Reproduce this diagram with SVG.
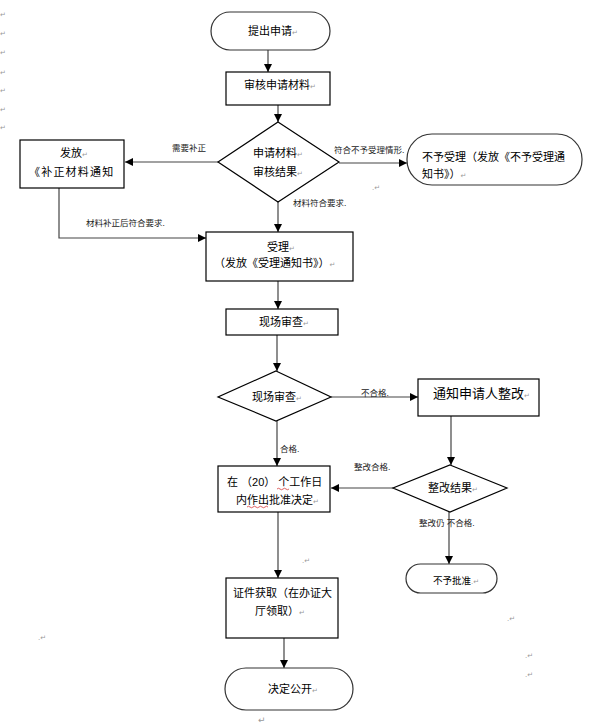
<svg xmlns="http://www.w3.org/2000/svg" width="596" height="727" viewBox="0 0 596 727">
<defs>
<marker id="arr" viewBox="0 0 10 10" refX="10" refY="5" markerWidth="8" markerHeight="8" markerUnits="userSpaceOnUse" orient="auto">
<path d="M0,0 L10,5 L0,10 z" fill="#000"/>
</marker>
</defs>
<style>
.box{fill:#fff;stroke:#000;stroke-width:1.2}
.term{fill:#fff;stroke:#333;stroke-width:1.2}
.t{font-family:"Liberation Sans","Noto Sans CJK SC",sans-serif;font-size:11px;fill:#000}
.big{font-size:13px}
.lb{font-family:"Liberation Sans","Noto Sans CJK SC",sans-serif;font-size:8.5px;fill:#222}
.pm{font-family:"DejaVu Sans",sans-serif;font-size:7px;fill:#999}
.c{fill:none;stroke:#444;stroke-width:1.2}
.wavy{fill:none;stroke:#d02020;stroke-width:0.7}
</style>
<rect width="596" height="727" fill="#fff"/>

<g id="margin-marks" class="pm">
<text x="0" y="17">↵</text><text x="0" y="36">↵</text><text x="0" y="55">↵</text><text x="0" y="75">↵</text><text x="0" y="93">↵</text><text x="0" y="112">↵</text><text x="0" y="130">↵</text>
<text x="38" y="640">.↵</text><text x="372" y="190">.↵</text><text x="479" y="412">.↵</text><text x="302" y="563">.↵</text>
<text x="507" y="621">.↵</text><text x="525" y="658">.↵</text><text x="525" y="677">.↵</text>
<text x="258" y="723" style="font-size:9px">↵</text>
</g>

<g id="connectors">
<line class="c" x1="268" y1="50" x2="268" y2="72" marker-end="url(#arr)"/>
<line class="c" x1="278" y1="105" x2="278" y2="122" marker-end="url(#arr)"/>
<line class="c" x1="218" y1="162" x2="125" y2="162" marker-end="url(#arr)"/>
<line class="c" x1="339" y1="163" x2="407" y2="163" marker-end="url(#arr)"/>
<line class="c" x1="278" y1="202" x2="278" y2="232" marker-end="url(#arr)"/>
<polyline class="c" points="59,188 59,238 206,238" marker-end="url(#arr)"/>
<line class="c" x1="278" y1="281" x2="278" y2="309" marker-end="url(#arr)"/>
<line class="c" x1="277" y1="335" x2="277" y2="371" marker-end="url(#arr)"/>
<line class="c" x1="331" y1="397" x2="418" y2="397" marker-end="url(#arr)"/>
<line class="c" x1="277" y1="421" x2="277" y2="466" marker-end="url(#arr)"/>
<line class="c" x1="451" y1="416" x2="451" y2="465" marker-end="url(#arr)"/>
<line class="c" x1="393" y1="488" x2="331" y2="488" marker-end="url(#arr)"/>
<line class="c" x1="449" y1="512" x2="449" y2="564" marker-end="url(#arr)"/>
<line class="c" x1="278" y1="512" x2="278" y2="578" marker-end="url(#arr)"/>
<line class="c" x1="284" y1="638" x2="284" y2="668" marker-end="url(#arr)"/>
<text class="lb" x="172" y="151">需要补正</text>
<text class="lb" x="334" y="153">符合不予受理情形.</text>
<text class="lb" x="293" y="206">材料符合要求.</text>
<text class="lb" x="86" y="226">材料补正后符合要求.</text>
<text class="lb" x="361" y="396">不合格.</text>
<text class="lb" x="280" y="452">合格.</text>
<text class="lb" x="354" y="470">整改合格.</text>
<text class="lb" x="419" y="526">整改仍 不合格.</text>
</g>

<g id="n-start">
<rect class="term" x="211" y="12" width="119" height="38" rx="19"/>
<text class="t" x="248" y="35">提出申请<tspan class="pm">↵</tspan></text>
</g>
<g id="n-review">
<rect class="box" x="226" y="72" width="104" height="33"/>
<text class="t" x="244" y="89">审核申请材料<tspan class="pm">↵</tspan></text>
</g>
<g id="n-decision1">
<polygon class="box" points="278,122 339,162 278,202 218,162"/>
<text class="t" x="253" y="157">申请材料<tspan class="pm">↵</tspan></text>
<text class="t" x="253" y="176">审核结果<tspan class="pm">↵</tspan></text>
</g>
<g id="n-supplement">
<rect class="box" x="20" y="140" width="104" height="48"/>
<text class="t" x="60" y="157">发放<tspan class="pm">↵</tspan></text>
<text class="t" x="29" y="176" letter-spacing="1.2">《补正材料通知</text>
</g>
<g id="n-reject1">
<rect class="term" x="407" y="134" width="175" height="51" rx="25"/>
<text class="t" x="422" y="161">不予受理（发放《不予受理通</text>
<text class="t" x="422" y="178">知书》）<tspan class="pm">↵</tspan></text>
</g>
<g id="n-accept">
<rect class="box" x="206" y="232" width="147" height="49"/>
<text class="t" x="267" y="251">受理<tspan class="pm">↵</tspan></text>
<text class="t" x="214" y="267">（发放《受理通知书》）<tspan class="pm">↵</tspan></text>
</g>
<g id="n-inspect">
<rect class="box" x="226" y="309" width="112" height="26"/>
<text class="t" x="259" y="326">现场审查<tspan class="pm">↵</tspan></text>
</g>
<g id="n-decision2">
<polygon class="box" points="276,371 331,397 276,421 218,397"/>
<text class="t" x="252" y="401">现场审查<tspan class="pm">↵</tspan></text>
</g>
<g id="n-rectify">
<rect class="box" x="418" y="379" width="121" height="37"/>
<text class="t big" x="433" y="398">通知申请人整改<tspan class="pm">↵</tspan></text>
</g>
<g id="n-decision3">
<polygon class="box" points="450,465 507,488 450,512 393,488"/>
<text class="t" x="428" y="492">整改结果<tspan class="pm">↵</tspan></text>
</g>
<g id="n-approve">
<rect class="box" x="218" y="466" width="112" height="46"/>
<text class="t" x="227" y="486" xml:space="preserve">在 （20） 个工作日</text>
<text class="t" x="236" y="504">内作出批准决定<tspan class="pm">↵</tspan></text>
<path class="wavy" d="M277,489 q1.5,-1.5 3,0 t3,0 t3,0 t3,0"/>
<path class="wavy" d="M247,507 q1.5,-1.5 3,0 t3,0 t3,0 t3,0 t3,0 t3,0 t3,0"/>
</g>
<g id="n-reject2">
<rect class="term" x="406" y="564" width="91" height="29" rx="14.5"/>
<text class="t" x="433" y="584" style="font-size:9.5px">不予批准<tspan class="pm">.↵</tspan></text>
</g>
<g id="n-license">
<rect class="box" x="226" y="578" width="112" height="60"/>
<text class="t" x="233" y="597">证件获取（在办证大</text>
<text class="t" x="255" y="615">厅领取）<tspan class="pm">↵</tspan></text>
</g>
<g id="n-public">
<rect class="term" x="225" y="668" width="128" height="42" rx="21"/>
<text class="t" x="268" y="693">决定公开<tspan class="pm">↵</tspan></text>
</g>
</svg>
